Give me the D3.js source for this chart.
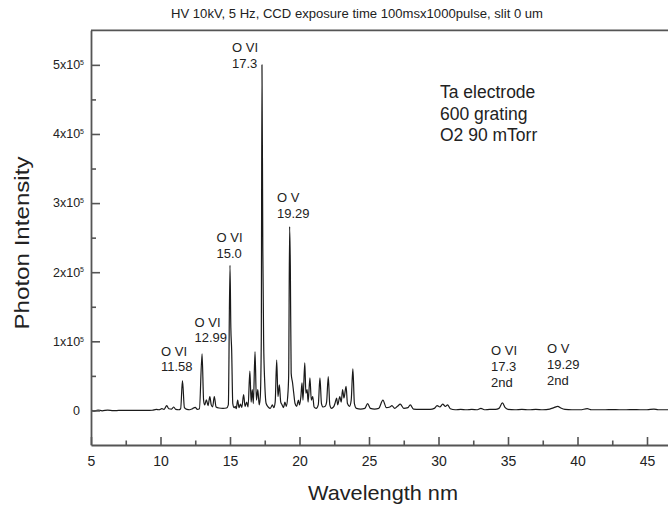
<!DOCTYPE html>
<html>
<head>
<meta charset="utf-8">
<script src="https://cdn.jsdelivr.net/npm/d3@7"></script>
<style>
  body { margin: 0; background: #fff; }
  svg { display: block; }
  text { font-family: "Liberation Sans", Arial, Helvetica, sans-serif; }
</style>
</head>
<body>
<svg id="chart" width="668" height="511"></svg>
<script>
// Spectrum samples: wavelength (nm) and photon intensity (counts)
const wavelength = [
  5.0, 5.2, 5.5, 5.8, 6.2, 6.6, 7.0, 7.5, 8.0, 8.5, 9.0, 9.4, 9.7, 9.9,
  10.1, 10.25, 10.45, 10.6, 10.8, 10.95, 11.1, 11.3, 11.45, 11.58, 11.72, 11.9, 12.1, 12.3, 12.5, 12.65, 12.8,
  12.99, 13.1, 13.18, 13.3, 13.42, 13.55, 13.65, 13.75, 13.87, 14.0, 14.2, 14.5, 14.75, 14.88,
  15.0, 15.06, 15.12, 15.2, 15.3, 15.38, 15.45, 15.55, 15.65, 15.75, 15.85, 15.98, 16.08, 16.2, 16.3, 16.43, 16.52, 16.6, 16.68, 16.8, 16.9,
  17.0, 17.1, 17.18, 17.25, 17.3, 17.36, 17.42, 17.5, 17.6, 17.75, 17.9, 18.05, 18.15, 18.25, 18.36, 18.45, 18.55, 18.65, 18.75, 18.85, 18.95,
  19.05, 19.15, 19.22, 19.29, 19.34, 19.4, 19.5, 19.58, 19.68, 19.8, 19.92, 20.0, 20.1, 20.18, 20.25, 20.38, 20.46, 20.55, 20.62, 20.75, 20.85, 20.95,
  21.05, 21.2, 21.35, 21.47, 21.58, 21.7, 21.85, 21.95, 22.07, 22.18, 22.3, 22.45, 22.55, 22.67, 22.75, 22.9, 23.0,
  23.1, 23.2, 23.35, 23.45, 23.6, 23.72, 23.84, 23.95, 24.1, 24.4, 24.7, 24.9, 25.1, 25.4, 25.7,
  26.0, 26.25, 26.5, 26.65, 26.85, 27.05, 27.25, 27.5, 27.8, 27.97, 28.2, 28.6, 29.0, 29.4, 29.7, 29.9, 30.1, 30.3, 30.5, 30.65, 30.85, 31.2,
  31.6, 32.0, 32.4, 32.8, 33.05, 33.3, 33.7, 34.1, 34.35, 34.6, 34.8, 35.0, 35.5, 36.0, 36.5, 37.0, 37.5, 38.0, 38.3,
  38.58, 38.8, 39.1, 39.6, 40.2, 40.7, 41.0, 41.5, 42.0, 42.5, 43.0, 43.5, 44.0, 44.5, 45.0, 45.5, 45.8, 46.5, 47.0
];
const intensity = [
  1000, -1000, 500, -500, 500, -300, 0, 200, 0, 200, 0, 300, 1500, 1000,
  2500, 1500, 7000, 2500, 2000, 5000, 1500, 1000, 2500, 43000, 4000, 1500, 1000, 2500, 4500, 1500, 2500,
  82000, 15000, 8000, 15500, 7000, 20000, 8000, 5000, 20000, 5000, 3500, 3000, 3500, 8000,
  210000, 120000, 87000, 10000, 4000, 6000, 2500, 15000, 4000, 9000, 4500, 23000, 6000, 12000, 5000, 57000, 12000, 30000, 10000, 85000, 15000,
  30000, 8000, 20000, 100000, 500000, 235000, 100000, 40000, 10000, 5000, 3000, 8000, 4000, 12000, 73000, 20000, 37000, 12000, 8000, 4000, 12000,
  6000, 20000, 50000, 266000, 210000, 54000, 40000, 26000, 10000, 6000, 15000, 8000, 20000, 40000, 15000, 69000, 25000, 30000, 12000, 47000, 15000, 20000,
  5000, 3000, 8000, 47000, 10000, 5000, 6000, 12000, 49000, 8000, 3000, 5000, 10000, 18000, 8000, 20000, 12000,
  30000, 18000, 35000, 10000, 6000, 15000, 60000, 10000, 3000, 2000, 3000, 10000, 3000, 2000, 3000,
  15000, 4000, 5000, 7000, 3000, 6000, 9000, 3000, 4000, 8000, 2000, 1500, 1500, 1500, 3000, 7000, 5000, 9000, 6000, 8000, 2500, 1000,
  1500, 1000, 1500, 1000, 3000, 1000, 1500, 1500, 3000, 11000, 4000, 1500, 1000, 1500, 1000, 1500, 1000, 2000, 4000,
  6000, 3500, 1500, 1000, 1000, 2500, 1000, 1000, 1000, 1200, 1000, 1000, 1200, 1000, 1000, 2000, 1000, 1000, 1000
];

// Axis ticks
const xTicks = [5, 10, 15, 20, 25, 30, 35, 40, 45];
const xMinorTicks = [7.5, 12.5, 17.5, 22.5, 27.5, 32.5, 37.5, 42.5];
const yTicks = [0, 100000, 200000, 300000, 400000, 500000];
const yMinorTicks = [50000, 150000, 250000, 350000, 450000];

// Line identifications
const lineIons = ["O VI", "O VI", "O VI", "O VI", "O V", "O VI", "O V"];
const lineNames = ["11.58", "12.99", "15.0", "17.3", "19.29", "17.3", "19.29"];
const lineOrders = ["", "", "", "", "", "2nd", "2nd"];

const titleText = "HV 10kV, 5 Hz, CCD exposure time 100msx1000pulse, slit 0 um";
const conditions = ["Ta electrode", "600 grating", "O2 90 mTorr"];

const W = 668, H = 511;
const svg = d3.select("#chart");
svg.append("rect").attr("width", W).attr("height", H).attr("fill", "#fff");

const plotLeft = 91, plotTop = 30.3, plotBottom = 445, plotRight = 674.8;
const x = d3.scaleLinear().domain([5, 47]).range([plotLeft, plotRight]);
const y = d3.scaleLinear().domain([-50000, 550000]).range([plotBottom, plotTop]);

const axisColor = "#555";
const textColor = "#222";

// Title
svg.append("text")
  .attr("x", 357).attr("y", 18)
  .attr("text-anchor", "middle")
  .attr("font-size", 12)
  .attr("textLength", 372).attr("lengthAdjust", "spacingAndGlyphs")
  .attr("fill", textColor)
  .text(titleText);

// Spectrum trace
svg.append("clipPath").attr("id", "plot-clip")
  .append("rect")
  .attr("x", plotLeft).attr("y", plotTop)
  .attr("width", plotRight - plotLeft).attr("height", plotBottom - plotTop);

const points = wavelength.map((w, i) => [w, intensity[i]]);
const line = d3.line()
  .x(d => x(d[0]))
  .y(d => y(d[1]))
  .curve(d3.curveMonotoneX);

svg.append("path")
  .datum(points)
  .attr("clip-path", "url(#plot-clip)")
  .attr("fill", "none")
  .attr("stroke", "#1a1a1a")
  .attr("stroke-width", 1.2)
  .attr("stroke-linejoin", "round")
  .attr("d", line);

// Frame top edge
svg.append("line")
  .attr("x1", plotLeft).attr("x2", plotRight)
  .attr("y1", plotTop).attr("y2", plotTop)
  .attr("stroke", axisColor).attr("stroke-width", 1.8);

// Bottom axis (ticks pointing inward)
function styleAxis(g) {
  g.selectAll("path.domain").attr("stroke", axisColor).attr("stroke-width", 1.8);
  g.selectAll(".tick line").attr("stroke", axisColor).attr("stroke-width", 1.6);
}

const gx = svg.append("g").attr("transform", `translate(0,${plotBottom})`)
  .call(d3.axisBottom(x).tickValues(xTicks).tickSize(-8).tickSizeOuter(0).tickPadding(11).tickFormat(d3.format("d")));
styleAxis(gx);
gx.selectAll(".tick text").attr("font-size", 14).attr("fill", textColor)
  .attr("font-family", "'Liberation Sans', Arial, sans-serif");

const gxm = svg.append("g").attr("transform", `translate(0,${plotBottom})`)
  .call(d3.axisBottom(x).tickValues(xMinorTicks).tickSize(-4.5).tickSizeOuter(0).tickFormat(""));
styleAxis(gxm);
gxm.select("path.domain").remove();

// Left axis (ticks pointing inward)
const gy = svg.append("g").attr("transform", `translate(${plotLeft},0)`)
  .call(d3.axisLeft(y).tickValues(yTicks).tickSize(-9).tickSizeOuter(0).tickFormat(""));
styleAxis(gy);

const gym = svg.append("g").attr("transform", `translate(${plotLeft},0)`)
  .call(d3.axisLeft(y).tickValues(yMinorTicks).tickSize(-5).tickSizeOuter(0).tickFormat(""));
styleAxis(gym);
gym.select("path.domain").remove();

// Y tick labels in the form Nx10^5
yTicks.forEach(v => {
  const t = svg.append("text")
    .attr("y", y(v)).attr("dy", "0.35em")
    .attr("text-anchor", "end")
    .attr("font-size", 12.5)
    .attr("fill", textColor);
  if (v === 0) {
    t.attr("x", 80).text("0");
  } else {
    t.attr("x", 84);
    t.append("tspan").text(`${v / 1e5}x10`);
    t.append("tspan").attr("font-size", 7).attr("dy", "-0.6em").text("5");
  }
});

// Axis titles
svg.append("text")
  .attr("transform", "translate(29,243) rotate(-90)")
  .attr("text-anchor", "middle")
  .attr("font-size", 20)
  .attr("textLength", 173).attr("lengthAdjust", "spacingAndGlyphs")
  .attr("fill", textColor)
  .text("Photon Intensity");

svg.append("text")
  .attr("x", 383).attr("y", 500)
  .attr("text-anchor", "middle")
  .attr("font-size", 21)
  .attr("textLength", 150).attr("lengthAdjust", "spacingAndGlyphs")
  .attr("fill", textColor)
  .text("Wavelength nm");

// Experimental conditions
conditions.forEach((c, i) => {
  svg.append("text")
    .attr("x", 440).attr("y", 91.7 + i * 21.7).attr("dy", "0.35em")
    .attr("font-size", 17.5)
    .attr("fill", textColor)
    .text(c);
});

// Line identification labels (left edge and first-line centre, in px)
const labelAnchors = [
  [161, 351], [194.5, 322], [216.5, 237.5], [232, 47.5], [277, 197.5], [491, 350.5], [547, 348.5]
];
lineIons.forEach((ion, i) => {
  const [lx, ly] = labelAnchors[i];
  const rows = [ion, lineNames[i]];
  if (lineOrders[i]) rows.push(lineOrders[i]);
  rows.forEach((r, j) => {
    svg.append("text")
      .attr("x", lx).attr("y", ly + j * 15.8).attr("dy", "0.35em")
      .attr("font-size", 13)
      .attr("fill", textColor)
      .text(r);
  });
});
</script>
</body>
</html>
